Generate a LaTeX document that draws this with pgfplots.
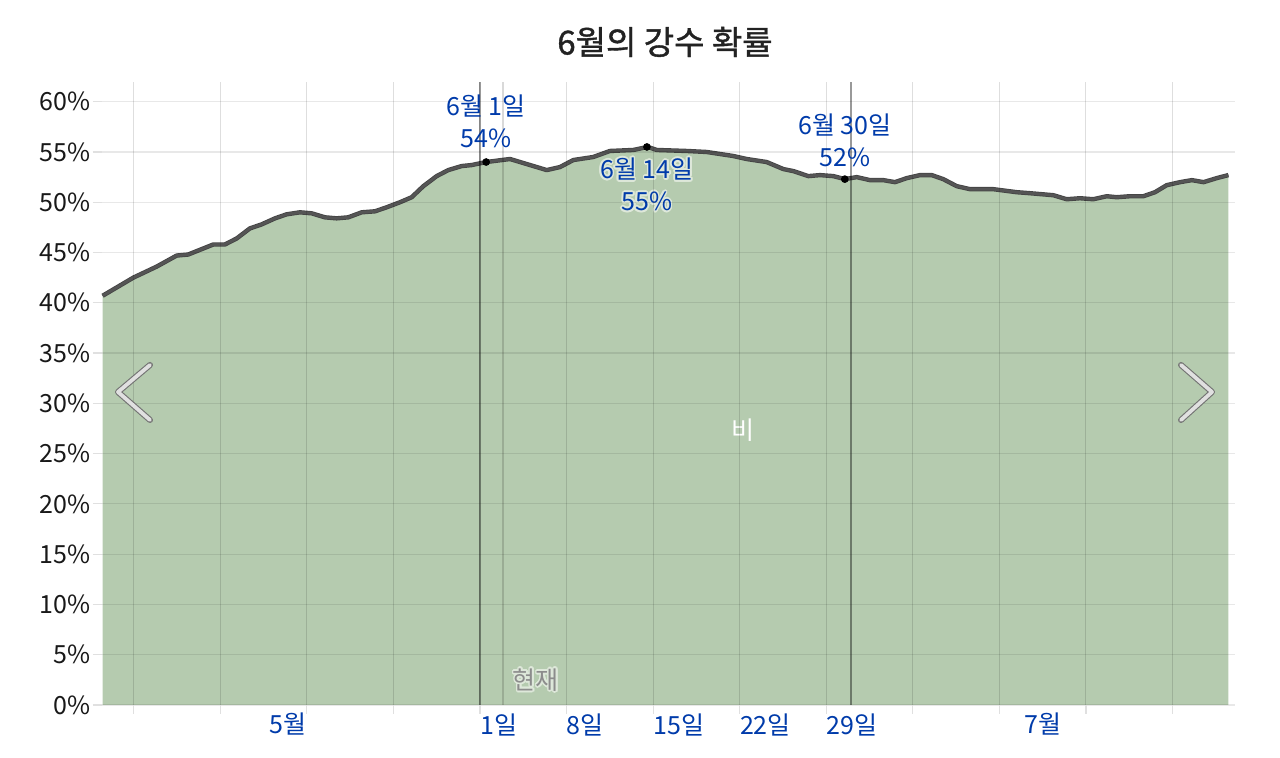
\documentclass[border=0pt]{standalone}
\usepackage{fontspec}
\setmainfont{Noto Sans CJK KR}
\newfontfamily\titlefont[FakeBold=1.2]{Noto Sans CJK KR}
\usepackage{pgfplots}
\pgfplotsset{compat=1.18}
\usepackage{pgfplotstable}
\usepackage{contour}
\contourlength{0.8pt}

\definecolor{rainfill}{RGB}{181,203,175}
\definecolor{rainline}{RGB}{85,85,85}
\definecolor{labelblue}{RGB}{0,59,170}
\definecolor{titlegray}{RGB}{34,34,34}
\definecolor{halo}{RGB}{222,232,218}

% daily chance of rain, day 0 = 1 May
\pgfplotstableread{
day prob
0.49 40.7
2.97 42.5
4.86 43.6
6.48 44.7
7.41 44.8
9.44 45.8
10.38 45.8
11.33 46.4
12.40 47.4
13.35 47.8
14.43 48.4
15.37 48.8
16.45 49.0
17.39 48.9
18.47 48.5
19.41 48.4
20.35 48.5
21.44 49.0
22.51 49.1
23.46 49.5
24.53 50.0
25.48 50.5
26.42 51.6
27.50 52.6
28.44 53.2
29.52 53.6
30.33 53.7
31.49 54.0
33.43 54.3
34.78 53.8
36.40 53.2
37.47 53.5
38.55 54.2
40.16 54.5
41.51 55.1
43.40 55.2
44.56 55.5
45.29 55.2
47.72 55.1
49.33 55.0
51.48 54.6
52.57 54.3
54.18 54.0
55.53 53.3
56.34 53.1
57.55 52.6
58.50 52.7
59.57 52.6
60.51 52.3
61.46 52.5
62.54 52.2
63.61 52.2
64.56 52.0
65.51 52.4
66.58 52.7
67.53 52.7
68.46 52.3
69.55 51.6
70.63 51.3
72.51 51.3
74.40 51.0
75.47 50.9
77.36 50.7
78.44 50.3
79.52 50.4
80.59 50.3
81.68 50.6
82.49 50.5
83.56 50.6
84.64 50.6
85.58 51.0
86.53 51.7
87.61 52.0
88.56 52.2
89.51 52.0
90.57 52.4
91.51 52.7
}\rain

\begin{document}
\begin{tikzpicture}
\useasboundingbox (0,0) rectangle (640pt,379pt);
\tikzset{chev/.style={line cap=round, line join=round}}

\begin{axis}[%
  at={(50.75pt,26.5pt)}, anchor=south west,
  scale only axis,
  width=566.75pt, height=311.7pt,
  xmin=0.4, xmax=92.05,
  ymin=0, ymax=62,
  axis line style={draw=none},
  axis on top,
  font=\fontsize{12.5}{15}\selectfont,
  /pgf/number format/assume math mode=true,
  xtick pos=bottom, ytick pos=left,
  % y axis
  ytick={0,5,...,60},
  yticklabel={\pgfmathprintnumber{\tick}\%},
  yticklabel style={text=black!90, inner xsep=1pt},
  ymajorgrids,
  y grid style={black, opacity=0.09, line width=0.6pt},
  % x axis
  xtick={3,10,17,24,31,38,45,52,59,66,73,80,87},
  xticklabels={,,,,1일,8일,15일,22일,29일,,,,},
  xticklabel style={text=labelblue, anchor=north west, inner xsep=0pt, yshift=3.5pt},
  xmajorgrids,
  x grid style={black, opacity=0.13, line width=0.5pt},
  tick align=outside,
  major tick length=4.5pt,
  tick style={black!12, line width=0.6pt},
  extra x ticks={15.5,76.5},
  extra x tick labels={5월,7월},
  extra x tick style={grid=none, major tick length=0pt,
    xticklabel style={anchor=north, yshift=-4pt}},
  clip=false,
]
\addplot[fill=rainfill, draw=none] table[x=day, y=prob] {\rain} \closedcycle;
\addplot[rainline!80!black, line width=2.2pt, line join=round] table[x=day, y=prob] {\rain};
\addplot[rainline, line width=1.4pt, line join=round] table[x=day, y=prob] {\rain};

% month boundaries and the current day
\draw[black, opacity=0.4, line width=0.55pt] (axis cs:31,0) -- (axis cs:31,62);
\draw[black, opacity=0.4, line width=0.55pt] (axis cs:61,0) -- (axis cs:61,62);
\draw[black, opacity=0.15, line width=0.6pt] (axis cs:32.86,0) -- (axis cs:32.86,62);

\addplot[only marks, mark=*, mark size=1.7pt, black] coordinates {
  (31.5,54.0) (44.5,55.5) (60.5,52.3)
};

\node[align=center, text=labelblue, font=\fontsize{12.5}{16}\selectfont]
  at (axis cs:31.5,58.0) {6월 1일\\54\%};
\node[align=center, text=labelblue, font=\fontsize{12.5}{16}\selectfont]
  at (axis cs:44.5,51.7) {\contour{halo}{6월 14일}\\\contour{halo}{55\%}};
\node[align=center, text=labelblue, font=\fontsize{12.5}{16}\selectfont]
  at (axis cs:60.5,56.2) {6월 30일\\52\%};

\node[text=white] at (axis cs:52.3,27.3) {비};
\node[text=black!45] at (axis cs:35.5,2.4) {\contour{halo}{현재}};
\end{axis}

% navigation chevrons
\draw[chev, black!55, line width=3pt] (75pt,196.5pt) -- (59pt,183pt) -- (75pt,169pt);
\draw[chev, black!12, line width=1.9pt] (75pt,196.5pt) -- (59pt,183pt) -- (75pt,169pt);
\draw[chev, black!55, line width=3pt] (590.5pt,196.5pt) -- (606pt,183pt) -- (590.5pt,169pt);
\draw[chev, black!12, line width=1.9pt] (590.5pt,196.5pt) -- (606pt,183pt) -- (590.5pt,169pt);

\node[text=titlegray, font=\titlefont\fontsize{16.5}{19}\selectfont] at (332.5pt,358pt) {6월의 강수 확률};
\end{tikzpicture}
\end{document}
